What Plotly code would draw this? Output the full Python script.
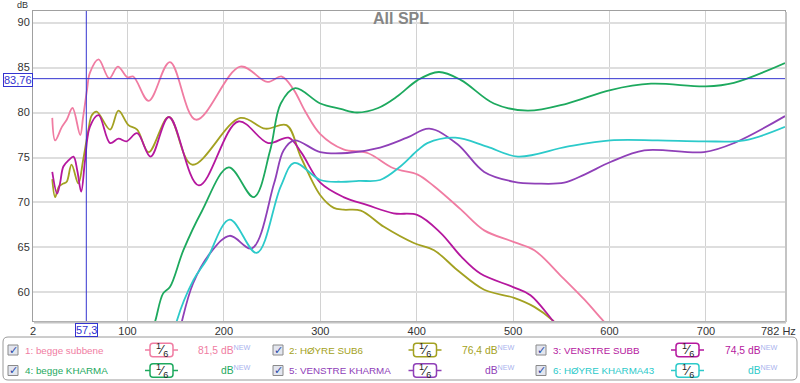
import plotly.graph_objects as go

# ---------------- data ----------------
freq_1 = [22, 25, 32, 37, 43, 51, 54, 58, 61, 70, 81, 90, 100, 106, 122, 144, 171, 217, 245, 260, 272, 285, 300, 324, 349, 376, 401, 418, 446, 470, 501, 522, 550, 574, 593, 605]
spl_1 = [79.4, 76.9, 78.4, 79.2, 80.5, 77.5, 79.5, 82.5, 84.4, 85.9, 83.8, 85.1, 83.9, 84.0, 81.3, 85.6, 79.2, 85.1, 83.4, 84.0, 82.6, 80.0, 77.6, 75.9, 75.5, 73.8, 73.1, 71.8, 69.2, 66.9, 65.6, 64.7, 61.8, 59.2, 56.9, 55.5]

freq_2 = [22, 25, 29, 33.5, 37, 42, 49, 54, 59.5, 63, 68, 82, 90.6, 101, 110, 122, 143, 167, 217, 243, 265, 280, 300, 314, 324, 342, 366, 397, 418, 442, 470, 501, 522, 541, 550]
spl_2 = [72.6, 70.6, 71.8, 72.1, 72.3, 74.2, 72.1, 74.7, 78.1, 79.7, 80.1, 78.1, 80.2, 78.6, 78.1, 75.6, 79.5, 74.2, 79.4, 78.2, 78.6, 75.0, 70.8, 69.4, 69.2, 69.1, 67.3, 65.5, 64.7, 62.5, 60.3, 59.4, 58.4, 56.9, 55.8]

freq_3 = [22, 27, 30, 33.5, 39, 44, 48, 52, 56, 61, 70, 82, 90.6, 99, 110, 124, 143, 174, 215, 246, 267, 280, 300, 324, 349, 376, 401, 425, 446, 466, 500, 518, 541, 550]
spl_3 = [73.4, 71.0, 72.1, 74.0, 74.7, 75.1, 73.5, 71.2, 74.7, 78.4, 79.7, 76.6, 77.1, 76.8, 77.7, 75.1, 79.5, 71.9, 79.0, 76.6, 77.2, 75.6, 72.2, 70.6, 69.7, 68.8, 68.6, 66.6, 64.0, 62.1, 60.6, 59.7, 56.9, 55.8]

freq_4 = [120, 129, 137, 144, 158, 177, 205, 231, 248, 259, 274, 300, 321, 338, 360, 380, 401, 423, 446, 480, 515, 556, 601, 643, 700, 729, 782]
spl_4 = [53.5, 56.9, 59.9, 60.6, 64.7, 69.0, 73.9, 70.6, 75.8, 81.0, 82.7, 81.0, 80.4, 80.0, 80.5, 81.8, 83.6, 84.5, 83.6, 81.0, 80.2, 81.0, 82.5, 83.2, 82.9, 83.3, 85.5]

freq_5 = [150, 156, 168, 186, 206, 229, 252, 262, 273, 300, 328, 362, 390, 413, 442, 470, 501, 525, 553, 574, 601, 636, 698, 729, 782]
spl_5 = [53.5, 56.6, 61.0, 64.4, 66.3, 64.9, 72.1, 75.8, 76.9, 75.6, 75.5, 76.1, 77.2, 78.2, 76.5, 73.4, 72.3, 72.1, 72.2, 73.1, 74.5, 75.8, 75.6, 76.6, 79.6]

freq_6 = [145, 150.5, 168.5, 182, 206, 234, 259, 273, 300, 321, 340, 362, 383, 401, 411, 440, 473, 505, 556, 601, 650, 698, 740, 782]
spl_6 = [53.5, 56.6, 61.4, 63.6, 68.1, 64.4, 71.8, 74.4, 72.5, 72.3, 72.4, 72.5, 74.0, 75.8, 76.6, 77.2, 76.2, 75.1, 76.2, 76.9, 76.9, 76.8, 76.9, 78.4]

names = ["1: begge subbene", "2: HØYRE SUB6", "3: VENSTRE SUBB",
         "4: begge KHARMA", "5: VENSTRE KHARMA", "6: HØYRE KHARMA43"]
levels = ["81,5", "76,4", "74,5", "", "", ""]
colors = ["#f07ca2", "#a3a121", "#b5179e", "#1da95e", "#8f40b8", "#2ccaca"]
series_f = [freq_1, freq_2, freq_3, freq_4, freq_5, freq_6]
series_v = [spl_1, spl_2, spl_3, spl_4, spl_5, spl_6]

x_ticks = [2, 100, 200, 300, 400, 500, 600, 700]
x_ticktext = ["2", "100", "200", "300", "400", "500", "600", "700"]
x_end_label = "782 Hz"
y_ticks = [60, 65, 70, 75, 80, 85, 90]
cursor_f = 57.3
cursor_db = 83.76

# ---------------- layout geometry ----------------
W, H = 800, 383
L, R, T, B = 33, 15, 11, 62
PW, PH = W - L - R, H - T - B


def px(x):
    return (x - L) / PW


def py(y):
    return (H - B - y) / PH


FONT = "Liberation Sans, Arial, sans-serif"
LFS = 9.8  # legend font size

fig = go.Figure()
for f, v, c, n in zip(series_f, series_v, colors, names):
    fig.add_trace(go.Scatter(x=f, y=v, mode="lines", name=n,
                             line=dict(color=c, width=1.8, shape="spline", smoothing=1.0),
                             showlegend=False, hoverinfo="skip"))

shapes = []
annotations = []

# cursor lines
shapes.append(dict(type="line", xref="x", yref="paper", x0=cursor_f, x1=cursor_f, y0=0, y1=1,
                   line=dict(color="#3434d0", width=1)))
shapes.append(dict(type="line", xref="paper", yref="y", x0=0, x1=1, y0=cursor_db, y1=cursor_db,
                   line=dict(color="#3434d0", width=1)))
# plot frame shadow
shapes.append(dict(type="line", xref="paper", yref="paper", x0=px(786), x1=px(786), y0=py(322), y1=py(12),
                   line=dict(color="#c4c4c4", width=2)))
shapes.append(dict(type="line", xref="paper", yref="paper", x0=px(34), x1=px(786), y0=py(322.5), y1=py(322.5),
                   line=dict(color="#c4c4c4", width=2)))

annotations.append(dict(xref="paper", yref="paper", x=px(17.5), y=py(79.5), text="83,76",
                        showarrow=False, font=dict(family=FONT, size=11, color="#3434d0"),
                        bordercolor="#3434d0", borderwidth=1, borderpad=0, bgcolor="white",
                        xanchor="center", yanchor="middle"))
annotations.append(dict(xref="x", yref="paper", x=cursor_f, y=py(330), text="57,3",
                        showarrow=False, font=dict(family=FONT, size=11, color="#3434d0"),
                        bordercolor="#3434d0", borderwidth=1, borderpad=0, bgcolor="white",
                        xanchor="center", yanchor="middle"))
annotations.append(dict(xref="paper", yref="paper", x=px(798), y=py(330.5), text=x_end_label,
                        showarrow=False, font=dict(family=FONT, size=11, color="#333333"),
                        xanchor="right", yanchor="middle"))
annotations.append(dict(xref="paper", yref="paper", x=px(401), y=py(19), text="<b>All SPL</b>",
                        showarrow=False, font=dict(family=FONT, size=16, color="#858585"),
                        xanchor="center", yanchor="middle"))
annotations.append(dict(xref="paper", yref="paper", x=px(22), y=py(5), text="dB",
                        showarrow=False, font=dict(family=FONT, size=9, color="#333333"),
                        xanchor="center", yanchor="middle"))


def rrect(x0, y0, x1, y1, r, color, width=1, fill=None):
    # rounded rectangle in pixel coordinates -> paper path
    X = lambda v: px(v)
    Y = lambda v: py(v)
    p = (f"M {X(x0 + r)},{Y(y0)} L {X(x1 - r)},{Y(y0)} Q {X(x1)},{Y(y0)} {X(x1)},{Y(y0 + r)} "
         f"L {X(x1)},{Y(y1 - r)} Q {X(x1)},{Y(y1)} {X(x1 - r)},{Y(y1)} "
         f"L {X(x0 + r)},{Y(y1)} Q {X(x0)},{Y(y1)} {X(x0)},{Y(y1 - r)} "
         f"L {X(x0)},{Y(y0 + r)} Q {X(x0)},{Y(y0)} {X(x0 + r)},{Y(y0)} Z")
    d = dict(type="path", xref="paper", yref="paper", path=p, line=dict(color=color, width=width))
    if fill:
        d["fillcolor"] = fill
    return d


# legend panel
shapes.append(rrect(3, 337, 797, 380, 5, "#9a9a9a", 1, "white"))

row_y = [350, 370.5]
cb_x = [13, 278, 541]
txt_x = [23, 287, 551]
box_x = [161.5, 425, 687.5]
val_x = [253, 517, 780]
for i, (n, lv, c) in enumerate(zip(names, levels, colors)):
    col = i % 3
    yc = row_y[i // 3]
    # checkbox
    shapes.append(dict(type="rect", xref="paper", yref="paper",
                       x0=px(cb_x[col] - 5), x1=px(cb_x[col] + 5), y0=py(yc - 5), y1=py(yc + 5),
                       line=dict(color="#8a8a8a", width=1), fillcolor="#e3e6ef"))
    annotations.append(dict(xref="paper", yref="paper", x=px(cb_x[col] + 0.5), y=py(yc), text="✓",
                            showarrow=False, font=dict(family="DejaVu Sans", size=11, color="#2a4aa8"),
                            xanchor="center", yanchor="middle"))
    annotations.append(dict(xref="paper", yref="paper", x=px(txt_x[col]), y=py(yc), text=n,
                            showarrow=False, font=dict(family=FONT, size=LFS, color=c),
                            xanchor="left", yanchor="middle"))
    # smoothing box
    bx = box_x[col]
    shapes.append(dict(type="line", xref="paper", yref="paper", x0=px(bx - 16.5), x1=px(bx + 16.5),
                       y0=py(yc), y1=py(yc), line=dict(color=c, width=1.5)))
    shapes.append(rrect(bx - 11.5, yc - 6.8, bx + 11.5, yc + 6.8, 3, c, 1.5, "white"))
    annotations.append(dict(xref="paper", yref="paper", x=px(bx), y=py(yc), text="<sup>1</sup>⁄<sub>6</sub>",
                            showarrow=False, font=dict(family=FONT, size=13, color="#222222"),
                            xanchor="center", yanchor="middle"))
    vt = (lv + " " if lv else "") + "dB<sup><span style='color:#a9b3ee'>NEW</span></sup>"
    annotations.append(dict(xref="paper", yref="paper", x=px(val_x[col]), y=py(yc - 1), text=vt,
                            showarrow=False, font=dict(family=FONT, size=LFS + 0.5, color=c),
                            xanchor="right", yanchor="middle"))

fig.update_layout(
    width=W, height=H, autosize=False,
    margin=dict(l=L, r=R, t=T, b=B, autoexpand=False),
    paper_bgcolor="white", plot_bgcolor="white",
    shapes=shapes, annotations=annotations,
    font=dict(family=FONT, size=11, color="#333333"),
)
fig.update_xaxes(range=[2, 782], tickvals=x_ticks, ticktext=x_ticktext, automargin=False,
                 showgrid=True, gridcolor="#d2d2d2", gridwidth=1,
                 showline=True, linecolor="#a0a0a0", linewidth=1, mirror=True,
                 ticks="", zeroline=False, tickfont=dict(size=11, color="#333333"))
fig.update_yaxes(range=[56.83, 91.28], tickvals=y_ticks, automargin=False,
                 showgrid=True, gridcolor="#dedede", gridwidth=2,
                 showline=True, linecolor="#a0a0a0", linewidth=1, mirror=True,
                 ticks="", zeroline=False, tickfont=dict(size=11, color="#333333"))

fig.write_html("out.html", config={"displayModeBar": False},
               post_script="document.body.style.margin='0';document.body.style.overflow='hidden';")
